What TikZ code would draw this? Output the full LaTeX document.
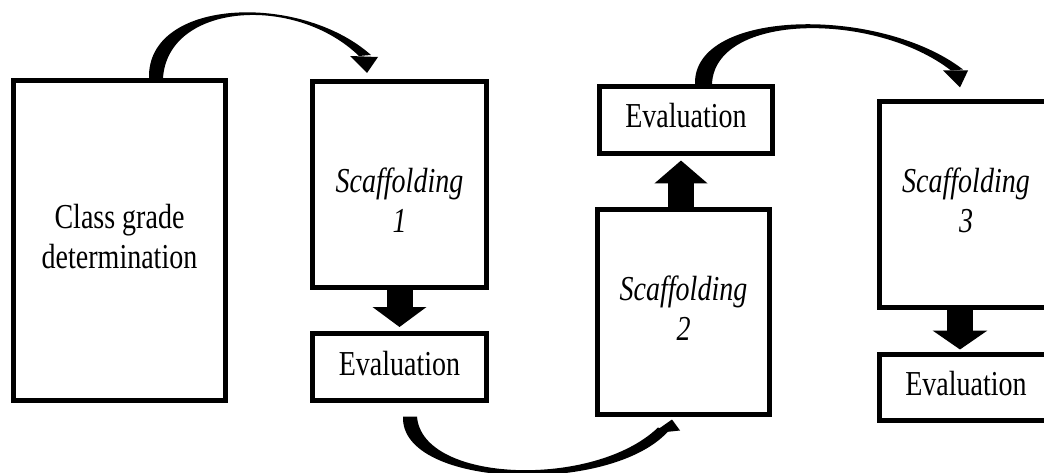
\documentclass[tikz,border=0pt]{standalone}
\usepackage{graphicx}
\usepackage{fontspec}
\setmainfont{Liberation Serif}
\usetikzlibrary{arrows.meta,calc}
% narrow, centred multi-line label text
\newcommand\sqz[1]{\scalebox{0.8}[1]{\begin{tabular}{@{}c@{}}#1\end{tabular}}}
\begin{document}
\begin{tikzpicture}[x=1pt,y=-1pt,
  box/.style={draw=black, line width=5pt, inner sep=0pt, font=\fontsize{35}{40}\selectfont},
  lbl/.style={inner sep=0pt, font=\fontsize{35}{40}\selectfont},
  block/.style={draw=black, line width=26pt, line cap=butt},
  curvefill/.style={fill=black}
]
\useasboundingbox (0,0) rectangle (1044,473);
\fill[white] (0,0) rectangle (1044,473);

% boxes
\node[box, minimum width=212pt, minimum height=320pt] (B1) at (119.5,240.5) {\sqz{Class grade\\determination}};
\node[box, minimum width=174pt, minimum height=206pt] (S1) at (399.5,184.5) {};
\node[lbl] (S1t) at ($(S1.center)+(0,20)$) {\sqz{\textit{Scaffolding}\\\textit{1}}};
\node[box, minimum width=174pt, minimum height=67pt] (E1) at (399.5,367) {\sqz{Evaluation}};
\node[box, minimum width=173pt, minimum height=67pt] (E2) at (686,120) {\sqz{Evaluation}};
\node[box, minimum width=172pt, minimum height=205pt] (S2) at (683.5,312) {\sqz{\textit{Scaffolding}\\\textit{2}}};
\node[box, minimum width=173pt, minimum height=206pt] (S3) at (966,204.5) {\sqz{\textit{Scaffolding}\\\textit{3}}};
\node[box, minimum width=173pt, minimum height=66pt] (E3) at (966,387.5) {\sqz{Evaluation}};

% block arrows
\draw[block, -{Triangle[width=53pt,length=20pt]}, shorten >=4pt] (S1.south) -- (E1.north);
\draw[block, -{Triangle[width=52pt,length=23pt]}, shorten >=4.5pt]
  ($(S2.north)+(-2.5,0)$) -- ($(S2.north |- E2.south)+(-2.5,0)$);
\draw[block, -{Triangle[width=54pt,length=19pt]}, shorten >=2.5pt]
  ($(S3.south)+(-6,0)$) -- ($(S3.south |- E3.north)+(-6,0)$);

% curved tapered arrows
\coordinate (s1) at ($(B1.north)+(36.5,0)$);
\coordinate (t1) at ($(S1.north)+(-32.5,-6)$);
\fill[curvefill] ($(s1)+(-7,0)$) .. controls ($(s1)+(-9,-80)$) and ($(t1)+(-67,-81)$) .. ($(t1)+(4,-18)$)
  -- ($(t1)+(-8,-17)$) .. controls ($(t1)+(-72,-79)$) and ($(s1)+(12,-75)$) .. ($(s1)+(7,0)$) -- cycle;
\fill[curvefill] ($(t1)+(-17,-17)$) -- ($(t1)+(11,-16)$) -- (t1) -- cycle;

\coordinate (s2) at ($(E1.south)+(10.5,13.5)$);
\coordinate (t2) at ($(S2.south)+(-11.5,2.5)$);
\fill[curvefill] ($(s2)+(-7,0)$) .. controls ($(s2)+(-10,72)$) and ($(t2)+(-62,76)$) .. ($(t2)+(-4,12)$)
  -- ($(t2)+(-14,8)$) .. controls ($(t2)+(-77,69)$) and ($(s2)+(12,67)$) .. ($(s2)+(7,0)$) -- cycle;
\fill[curvefill] ($(t2)+(-20,14)$) -- ($(t2)+(8,11)$) -- (t2) -- cycle;

\coordinate (s3) at ($(E2.north)+(17.5,0)$);
\coordinate (t3) at ($(S3.north)+(-6,-11.5)$);
\fill[curvefill] ($(s3)+(-8.5,0)$) .. controls ($(s3)+(-10.5,-75.5)$) and ($(t3)+(-80,-82)$) .. ($(t3)+(3,-18)$)
  -- ($(t3)+(-9,-17)$) .. controls ($(t3)+(-85,-76)$) and ($(s3)+(11.5,-71.5)$) .. ($(s3)+(8.5,0)$) -- cycle;
\fill[curvefill] ($(t3)+(-17,-17)$) -- ($(t3)+(8,-17)$) -- (t3) -- cycle;
\end{tikzpicture}
\end{document}
